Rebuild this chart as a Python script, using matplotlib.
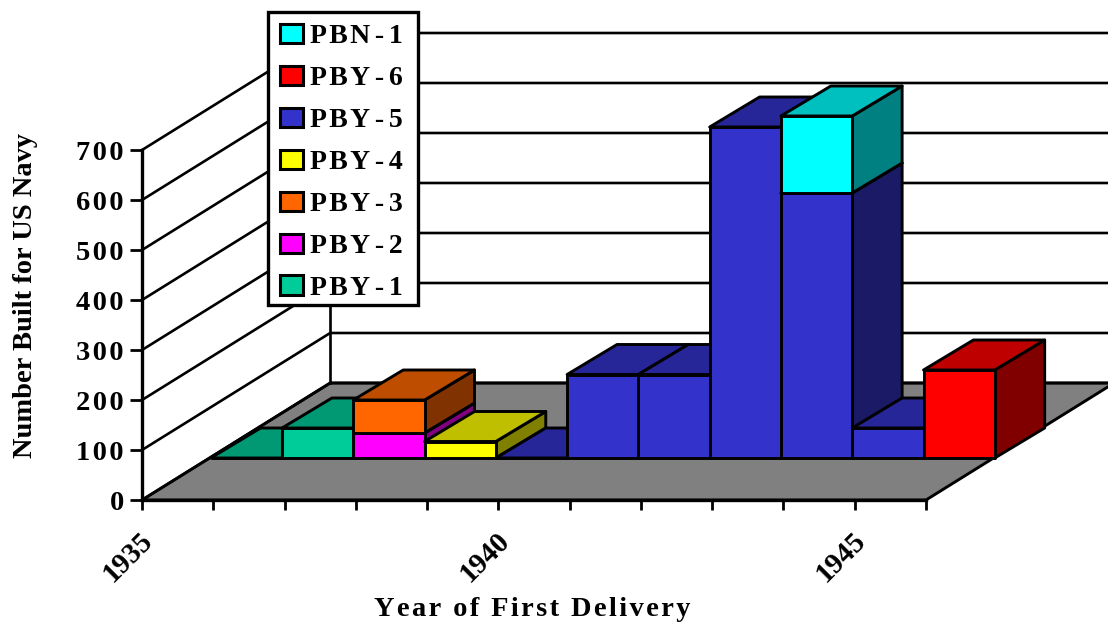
import numpy as np
import matplotlib
matplotlib.use("Agg")
import matplotlib.pyplot as plt
from matplotlib.patches import Polygon, Patch, Rectangle
from matplotlib.transforms import Affine2D

plt.rcParams['font.family'] = ['Liberation Serif', 'DejaVu Serif']
plt.rcParams['font.weight'] = 'bold'
plt.rcParams['axes.labelweight'] = 'bold'

years = [1935, 1936, 1937, 1938, 1939, 1940, 1941, 1942, 1943, 1944, 1945]
nan = float('nan')
pby1 = [0, 60, nan, nan, nan, nan, nan, nan, nan, nan, nan]
pby2 = [nan, nan, 50, nan, nan, nan, nan, nan, nan, nan, nan]
pby3 = [nan, nan, 66, nan, nan, nan, nan, nan, nan, nan, nan]
pby4 = [nan, nan, nan, 33, nan, nan, nan, nan, nan, nan, nan]
pby5 = [nan, nan, nan, nan, 0, 167, 167, 662, 530, 60, nan]
pby6 = [nan, nan, nan, nan, nan, nan, nan, nan, nan, nan, 176]
pbn1 = [nan, nan, nan, nan, nan, nan, nan, nan, 154, nan, nan]

series_names = ['PBY-1', 'PBY-2', 'PBY-3', 'PBY-4', 'PBY-5', 'PBY-6', 'PBN-1']
series_values = [pby1, pby2, pby3, pby4, pby5, pby6, pbn1]
front_colors = ['#00CC99', '#FF00FF', '#FF6600', '#FFFF00', '#3333CC', '#FF0000', '#00FFFF']
top_colors = ['#009973', '#BF00BF', '#BF4D00', '#BFBF00', '#262699', '#BF0000', '#00BFBF']
side_colors = ['#00664D', '#800080', '#803300', '#808000', '#1A1A66', '#800000', '#008080']

value_ticks = [0, 100, 200, 300, 400, 500, 600, 700]
year_labels = {1935: '1935', 1940: '1940', 1945: '1945'}

HS = '\u200a'
def spaced(s, sep=HS):
    return sep.join(s)

W, H = 1108, 625
fig = plt.figure(figsize=(W / 100, H / 100), dpi=100, facecolor='white')
ax = fig.add_axes([142 / W, (H - 500) / H, 784 / W, 350 / H])
ax.set_xlim(1935, 1946)
ax.set_ylim(0, 700)
ax.patch.set_visible(False)

# oblique projection offsets in data units
wall_dx, wall_dy = 2.64, 234   # full floor depth
row_dx, row_dy = 0.965, 84     # bars' front plane
bar_dx, bar_dy = 0.70, 60      # bar depth
LW = 2.1

# floor
ax.add_patch(Polygon([(1935, 0), (1946, 0), (1946 + wall_dx, wall_dy), (1935 + wall_dx, wall_dy)],
                     closed=True, fc='#808080', ec='black', lw=LW, clip_on=False, zorder=1))
# walls and gridlines
for v in value_ticks:
    ax.plot([1935, 1935 + wall_dx, 1946 + wall_dx], [v, v + wall_dy, v + wall_dy],
            color='black', lw=1.9, clip_on=False, zorder=1.2)
ax.plot([1935 + wall_dx] * 2, [wall_dy, 700 + wall_dy], color='black', lw=1.9, clip_on=False, zorder=1.2)

# bars, left to right, stacked bottom to top
z = 2.0
for i, y in enumerate(years):
    base = 0.0
    for vals, fc, tc, sc in zip(series_values, front_colors, top_colors, side_colors):
        v = vals[i]
        if np.isnan(v):
            continue
        x0, x1 = y + row_dx, y + 1 + row_dx
        b0, b1 = base + row_dy, base + v + row_dy
        ax.add_patch(Polygon([(x1, b0), (x1 + bar_dx, b0 + bar_dy), (x1 + bar_dx, b1 + bar_dy), (x1, b1)],
                             closed=True, fc=sc, ec='black', lw=LW, joinstyle='round', clip_on=False, zorder=z))
        ax.add_patch(Polygon([(x0, b1), (x1, b1), (x1 + bar_dx, b1 + bar_dy), (x0 + bar_dx, b1 + bar_dy)],
                             closed=True, fc=tc, ec='black', lw=LW, joinstyle='round', clip_on=False, zorder=z))
        ax.add_patch(Polygon([(x0, b0), (x1, b0), (x1, b1), (x0, b1)],
                             closed=True, fc=fc, ec='black', lw=LW, joinstyle='round', clip_on=False, zorder=z))
        z += 0.001
        base += v

# axes
for s in ('top', 'right'):
    ax.spines[s].set_visible(False)
for s in ('left', 'bottom'):
    ax.spines[s].set_linewidth(2.4)
    ax.spines[s].set_zorder(1.5)

tick_years = years + [1946]
ax.set_xticks(tick_years)
ax.set_xticklabels([year_labels.get(y, '') for y in tick_years], fontsize=21, rotation=45,
                   ha='right', va='center', rotation_mode='anchor')
ax.tick_params(axis='x', length=7, width=2.0, pad=14)
for lab in ax.get_xticklabels():
    lab.set_transform(lab.get_transform() + Affine2D().translate(7, -7))
ax.set_yticks(value_ticks)
ax.set_yticklabels([spaced(str(v)) for v in value_ticks], fontsize=20.5)
ax.tick_params(axis='y', length=9, width=2.0, pad=4)

ax.set_xlabel(spaced('Year of First Delivery'), fontsize=20.5)
ax.xaxis.set_label_coords((532 - 142) / 784, -(610 - 500) / 350, transform=ax.transAxes)
ax.xaxis.label.set_va('center')
ax.set_ylabel('Number Built for US Navy', fontsize=20.5)
ax.yaxis.set_label_coords((26 - 142) / 784, (500 - 295) / 350, transform=ax.transAxes)
ax.yaxis.label.set_va('center')

# legend
ax.add_patch(Rectangle((268 / W, 1 - 305 / H), 150 / W, 293 / H, transform=fig.transFigure,
                       fc='white', ec='black', lw=2.4, clip_on=False, zorder=9))
handles = [Patch(fc=c, ec='black', lw=2.2) for c in front_colors][::-1]
labels = [spaced(n.split('-')[0]) + HS + HS + '-' + HS + HS + n.split('-')[1] for n in series_names][::-1]
leg = ax.legend(handles, labels,
                loc='upper left', bbox_to_anchor=(268 / W, 1 - 12 / H), bbox_transform=fig.transFigure,
                fontsize=20, frameon=False,
                borderpad=0.42, labelspacing=0.595, handlelength=0.85, handleheight=0.7, handletextpad=0.26,
                borderaxespad=0)
leg.set_zorder(10)

fig.savefig('out.png', dpi=100)
